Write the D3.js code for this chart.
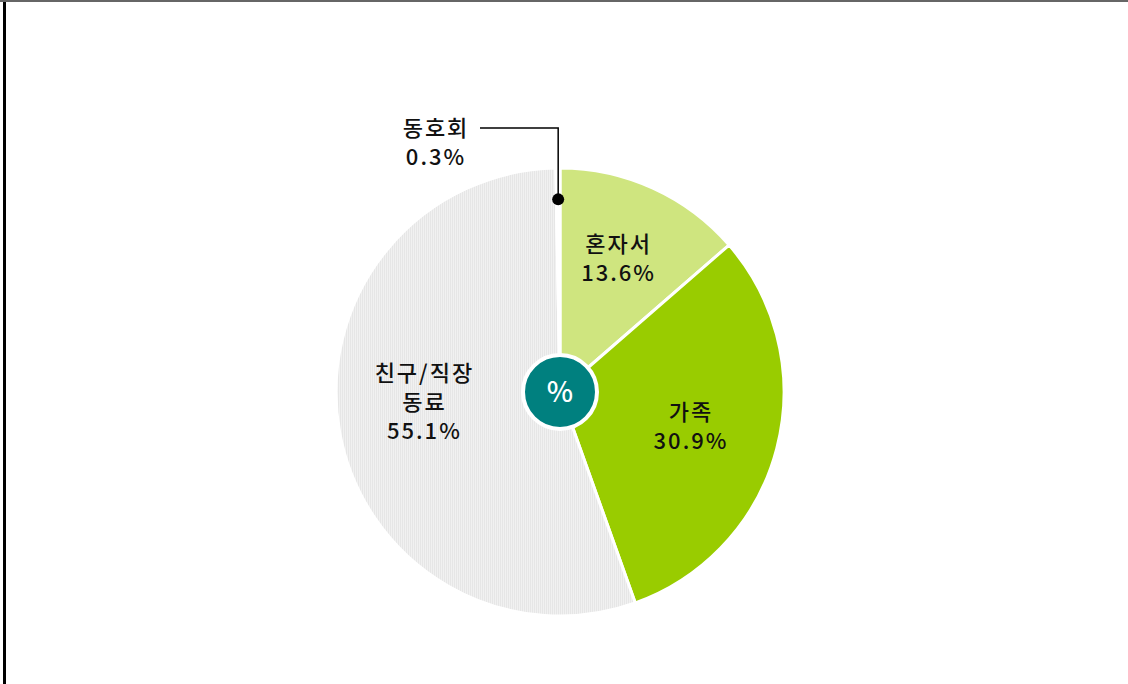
<!DOCTYPE html>
<html>
<head>
<meta charset="utf-8">
<script src="https://cdn.jsdelivr.net/npm/d3@7"></script>
<style>
  body { margin: 0; background: #fff; }
  svg { display: block; }
  text { font-family: "Noto Sans CJK KR", "Noto Sans", sans-serif; }
</style>
</head>
<body>
<script>
// share of people by companion type (%)
var categories = ["혼자서", "가족", "친구/직장 동료", "동호회"];
var values = [13.6, 30.9, 55.1, 0.3];
var labelLines = [["혼자서"], ["가족"], ["친구/직장", "동료"], ["동호회"]];
var colors = ["#cfe57f", "#99cc00", "url(#stripes)", "#ffffff"];

var w = 1128, h = 684;
var cx = 560, cy = 392, r = 224;

var svg = d3.select("body").append("svg")
  .attr("width", w)
  .attr("height", h);

// frame: thick left edge, thin top edge
svg.append("line").attr("x1", 4.5).attr("x2", 4.5).attr("y1", 0).attr("y2", h)
  .attr("stroke", "#000").attr("stroke-width", 3);
svg.append("line").attr("x1", 0).attr("x2", w).attr("y1", 1).attr("y2", 1)
  .attr("stroke", "#666").attr("stroke-width", 2);

// striped gray fill for the big slice
var pat = svg.append("defs").append("pattern")
  .attr("id", "stripes")
  .attr("patternUnits", "userSpaceOnUse")
  .attr("width", 2).attr("height", 2);
pat.append("rect").attr("width", 2).attr("height", 2).attr("fill", "#f1f1f1");
pat.append("rect").attr("width", 1).attr("height", 2).attr("fill", "#e6e6e6");

var pie = d3.pie().sort(null).value(function(d){ return d; });
var arcs = pie(values);
var arc = d3.arc().innerRadius(0).outerRadius(r);

var g = svg.append("g").attr("transform", "translate(" + cx + "," + cy + ")");

g.selectAll(".slice")
  .data(arcs)
  .enter()
  .append("path")
  .attr("class", "slice")
  .attr("d", arc)
  .attr("fill", function(d, i){ return colors[i]; })
  .attr("stroke", "#fff")
  .attr("stroke-width", 3)
  .attr("stroke-linejoin", "round");

// label positions (radius factor and vertical nudge per slice)
var labelRadius = [0.62, 0.6, 0.62];
var labelNudge = [-7, 0, -15];
var lineGap = 29;

arcs.forEach(function(d, i){
  if (i > 2) return;
  var lr = r * labelRadius[i];
  var c = d3.arc().innerRadius(lr).outerRadius(lr).centroid(d);
  var lines = labelLines[i].concat([values[i].toFixed(1) + "%"]);
  var t = g.append("text")
    .attr("text-anchor", "middle")
    .attr("font-size", 22)
    .attr("font-weight", 500)
    .attr("letter-spacing", 2)
    .attr("fill", "#111");
  var y0 = c[1] + labelNudge[i] - (lines.length - 1) * lineGap / 2;
  lines.forEach(function(s, k){
    t.append("tspan").attr("x", c[0] + 1).attr("y", y0 + k * lineGap + 8).text(s);
  });
});

// callout for the tiny slice
var small = arcs[3];
var mid = (small.startAngle + small.endAngle) / 2;
var dotR = r * 0.86;
var dot = [Math.sin(mid) * dotR, -Math.cos(mid) * dotR];
var elbowY = -264;
g.append("polyline")
  .attr("points", [[dot[0], dot[1]], [dot[0], elbowY], [-80, elbowY]].map(function(p){ return p.join(","); }).join(" "))
  .attr("fill", "none")
  .attr("stroke", "#000")
  .attr("stroke-width", 1.5);
g.append("circle").attr("cx", dot[0]).attr("cy", dot[1]).attr("r", 6).attr("fill", "#000");
var ct = g.append("text")
  .attr("text-anchor", "middle")
  .attr("font-size", 22)
  .attr("font-weight", 500)
  .attr("letter-spacing", 2)
  .attr("fill", "#111");
ct.append("tspan").attr("x", -124).attr("y", elbowY + 8).text(labelLines[3][0]);
ct.append("tspan").attr("x", -124).attr("y", elbowY + 37).text(values[3].toFixed(1) + "%");

// centre badge
g.append("circle").attr("r", 37).attr("fill", "#00807f").attr("stroke", "#fff").attr("stroke-width", 4);
g.append("text")
  .attr("text-anchor", "middle")
  .attr("y", 10)
  .attr("font-size", 28)
  .attr("font-weight", 500)
  .attr("fill", "#fff")
  .text("%");
</script>
</body>
</html>
